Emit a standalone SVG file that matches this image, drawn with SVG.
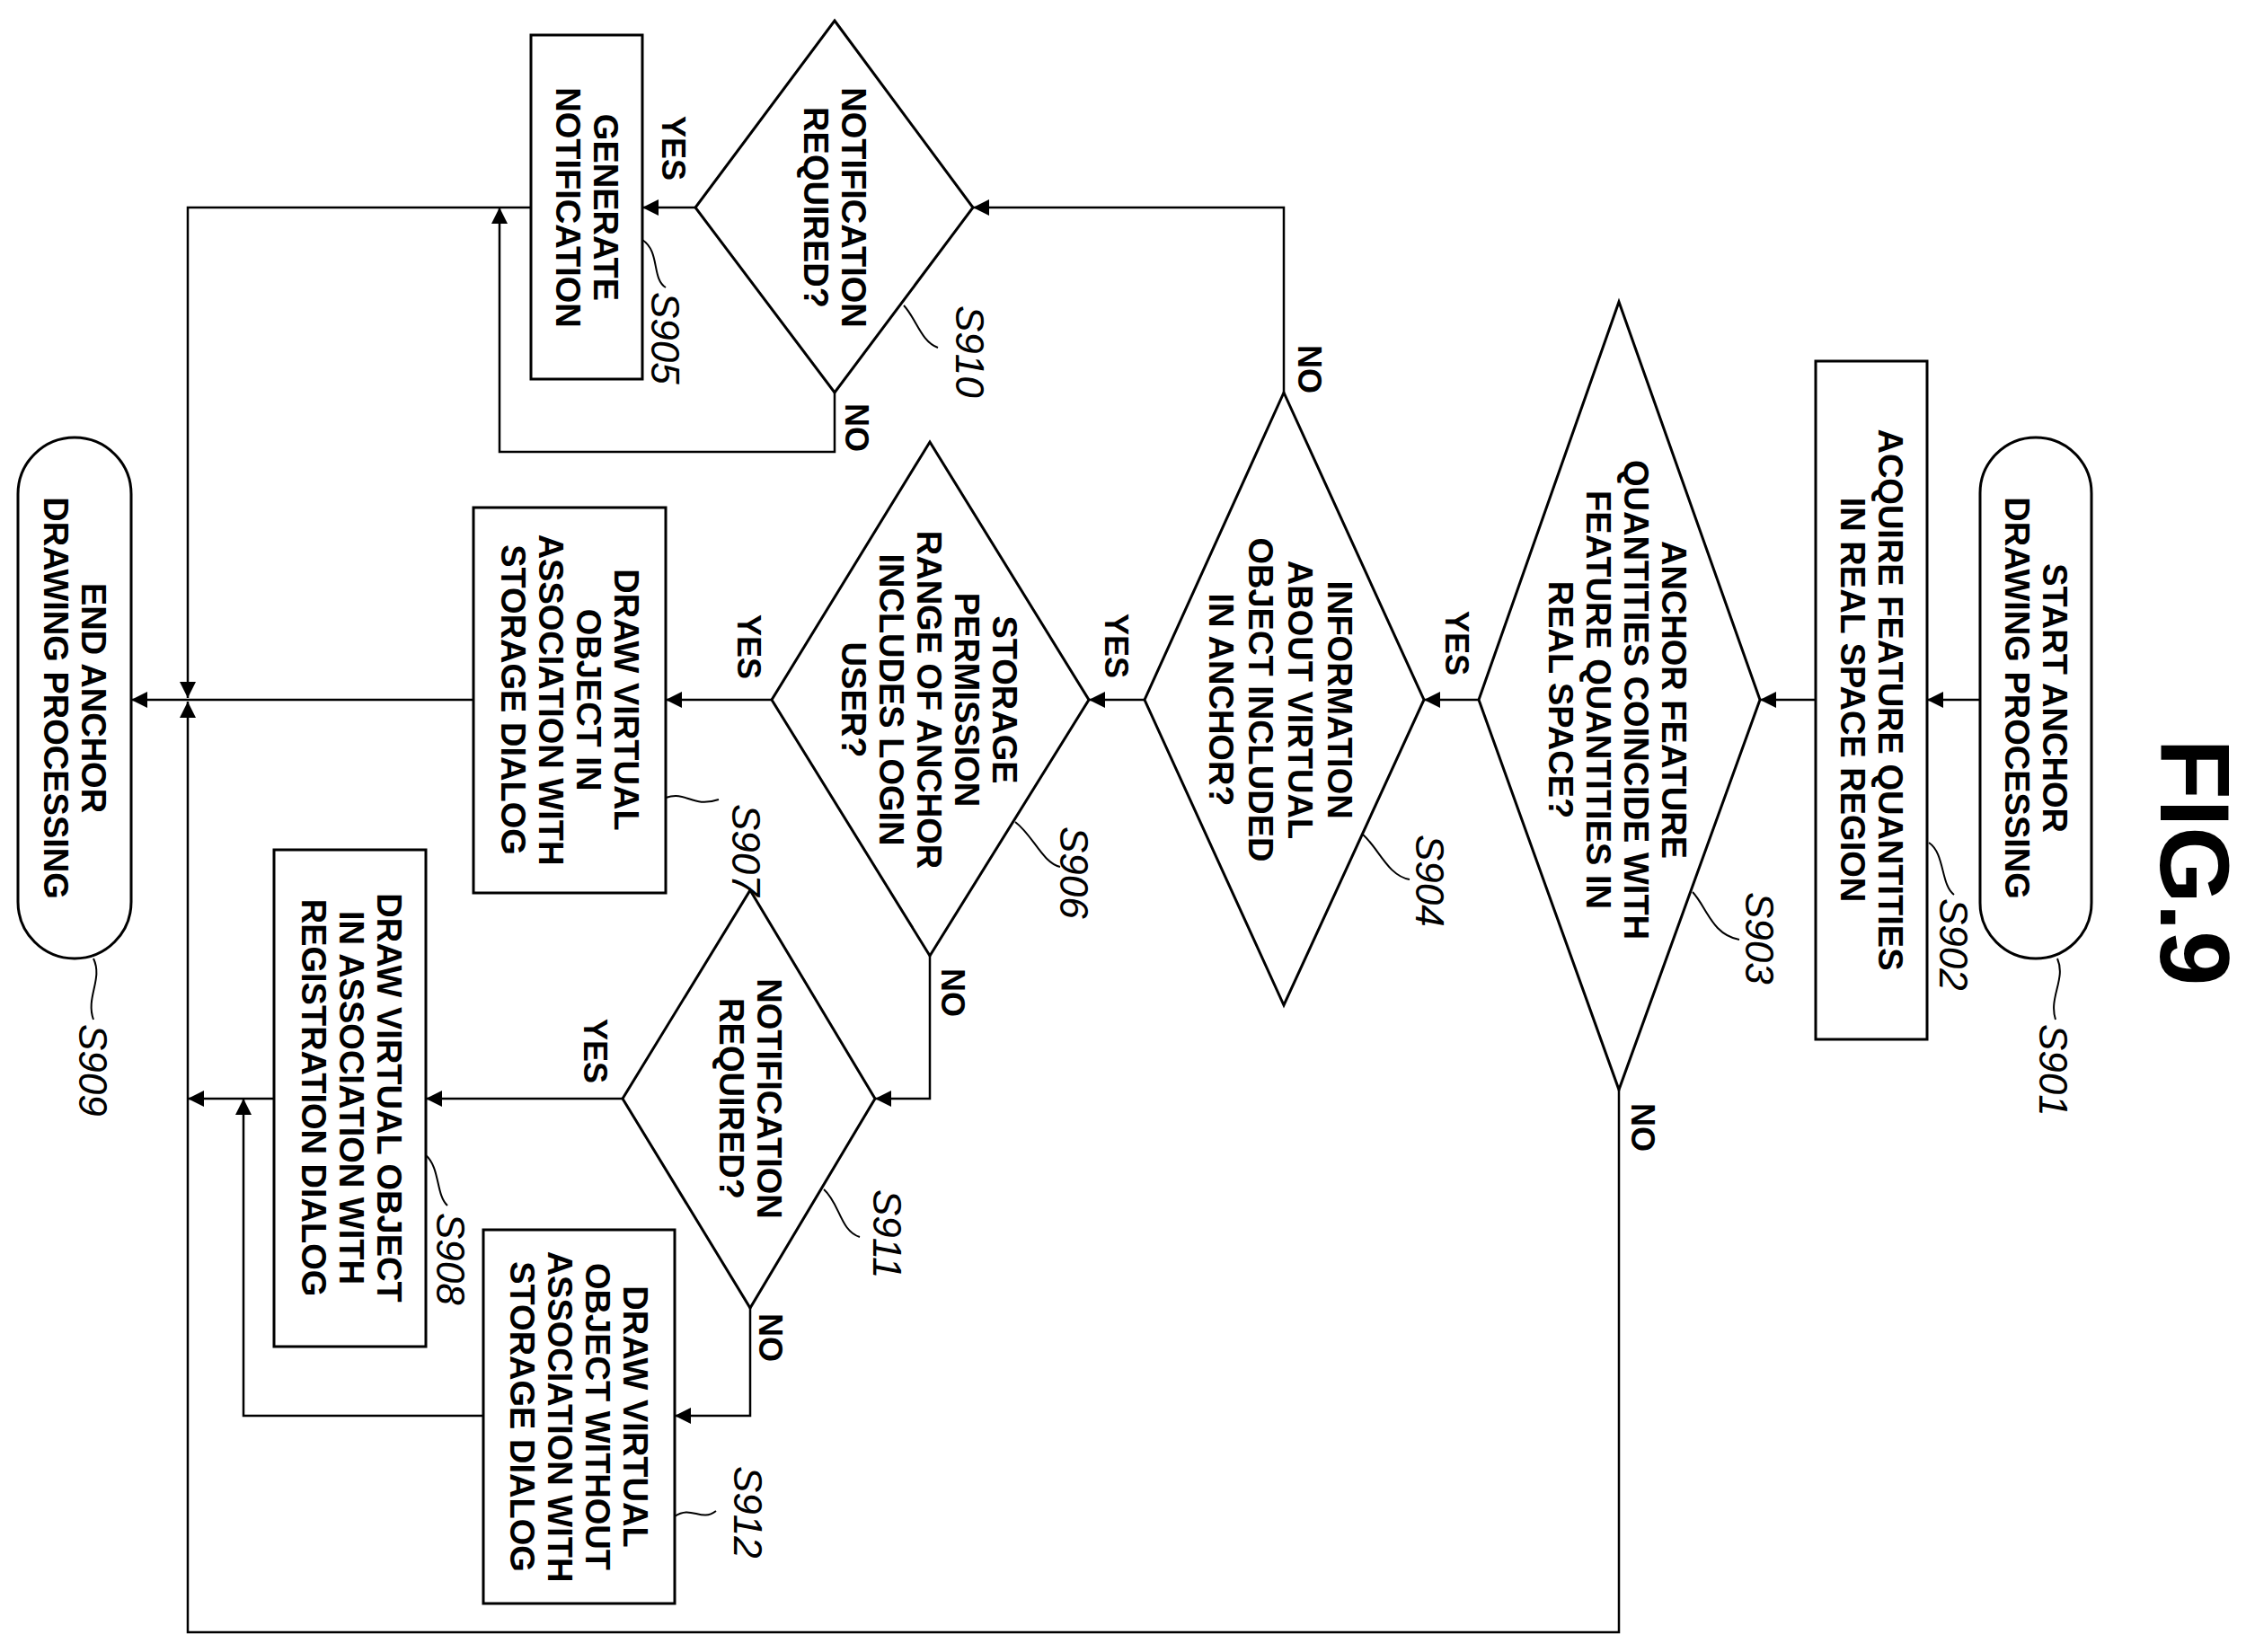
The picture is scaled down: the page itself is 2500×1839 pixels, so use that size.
<svg xmlns="http://www.w3.org/2000/svg" width="2500" height="1839" viewBox="0 0 2500 1839">
<style>
.s{fill:none;stroke:#000;stroke-width:3}
.c{fill:none;stroke:#000;stroke-width:2.5}
.t{font-family:"Liberation Sans",Arial,sans-serif;font-size:38px;font-weight:bold;text-anchor:middle}
.l{font-family:"Liberation Sans",Arial,sans-serif;font-size:44px;font-style:italic}
.y{font-family:"Liberation Sans",Arial,sans-serif;font-size:36px;font-weight:bold}
.ld{fill:none;stroke:#000;stroke-width:2}
</style>
<defs>
<marker id="a" viewBox="0 0 10 10" refX="10" refY="5" markerWidth="20" markerHeight="18" markerUnits="userSpaceOnUse" orient="auto"><path d="M0,0L10,5L0,10z" fill="#000"/></marker>
</defs>
<rect width="2500" height="1839" fill="#fff"/>
<text class="t" style="font-size:110px" transform="translate(2405,960) rotate(90)">FIG.9</text>

<g id="S901"><rect class="s" x="2204" y="487" width="124" height="580" rx="62"/>
<g transform="translate(2266,777) rotate(90)"><text class="t" y="-8">START ANCHOR</text><text class="t" y="34">DRAWING PROCESSING</text></g>
<path class="ld" d="M2290,1067 C2300,1090 2280,1110 2288,1135"/><text class="l" transform="translate(2270,1140) rotate(90)">S901</text></g>

<g id="S902"><rect class="s" x="2021" y="402" width="124" height="755"/>
<g transform="translate(2083,779) rotate(90)"><text class="t" y="-8">ACQUIRE FEATURE QUANTITIES</text><text class="t" y="34">IN REAL SPACE REGION</text></g>
<path class="ld" d="M2147,938 C2165,950 2160,985 2175,996"/><text class="l" transform="translate(2159,1000) rotate(90)">S902</text></g>

<g id="S903"><polygon class="s" points="1802,336 1959,779 1802,1213 1646,779"/>
<g transform="translate(1800,779) rotate(90)"><text class="t" y="-50">ANCHOR FEATURE</text><text class="t" y="-8">QUANTITIES COINCIDE WITH</text><text class="t" y="34">FEATURE QUANTITIES IN</text><text class="t" y="76">REAL SPACE?</text></g>
<path class="ld" d="M1884,993 C1900,1010 1905,1040 1936,1046"/><text class="l" transform="translate(1943,993) rotate(90)">S903</text></g>

<g id="S904"><polygon class="s" points="1429,437 1585,779 1429,1119 1274,779"/>
<g transform="translate(1424,779) rotate(90)"><text class="t" y="-54">INFORMATION</text><text class="t" y="-10">ABOUT VIRTUAL</text><text class="t" y="34">OBJECT INCLUDED</text><text class="t" y="78">IN ANCHOR?</text></g>
<path class="ld" d="M1517,929 C1535,945 1545,975 1569,979"/><text class="l" transform="translate(1576,929) rotate(90)">S904</text></g>

<g id="S906"><polygon class="s" points="1035,492 1212,779 1035,1064 859,779"/>
<g transform="translate(1033,779) rotate(90)"><text class="t" y="-72">STORAGE</text><text class="t" y="-30">PERMISSION</text><text class="t" y="12">RANGE OF ANCHOR</text><text class="t" y="54">INCLUDES LOGIN</text><text class="t" y="96">USER?</text></g>
<path class="ld" d="M1130,915 C1150,930 1160,960 1180,965"/><text class="l" transform="translate(1180,920) rotate(90)">S906</text></g>

<g id="S907"><rect class="s" x="527" y="565" width="214" height="429"/>
<g transform="translate(634,779) rotate(90)"><text class="t" y="-50">DRAW VIRTUAL</text><text class="t" y="-8">OBJECT IN</text><text class="t" y="34">ASSOCIATION WITH</text><text class="t" y="76">STORAGE DIALOG</text></g>
<path class="ld" d="M741,888 C765,880 770,900 800,890"/><text class="l" transform="translate(815,895) rotate(90)">S907</text></g>

<g id="S909"><rect class="s" x="20" y="487" width="126" height="580" rx="63"/>
<g transform="translate(83,777) rotate(90)"><text class="t" y="-8">END ANCHOR</text><text class="t" y="34">DRAWING PROCESSING</text></g>
<path class="ld" d="M104,1067 C115,1090 95,1110 104,1135"/><text class="l" transform="translate(88,1140) rotate(90)">S909</text></g>

<g id="S910"><polygon class="s" points="929,23 1083,231 929,437 774,231"/>
<g transform="translate(929,231) rotate(90)"><text class="t" y="-8">NOTIFICATION</text><text class="t" y="34">REQUIRED?</text></g>
<path class="ld" d="M1006,340 C1020,355 1025,380 1044,387"/><text class="l" transform="translate(1064,340) rotate(90)">S910</text></g>

<g id="S905"><rect class="s" x="591" y="39" width="124" height="383"/>
<g transform="translate(653,231) rotate(90)"><text class="t" y="-8">GENERATE</text><text class="t" y="34">NOTIFICATION</text></g>
<path class="ld" d="M715,267 C735,280 725,310 741,320"/><text class="l" transform="translate(725,325) rotate(90)">S905</text></g>

<g id="S911"><polygon class="s" points="835,991 974,1223 835,1456 693,1223"/>
<g transform="translate(835,1223) rotate(90)"><text class="t" y="-8">NOTIFICATION</text><text class="t" y="34">REQUIRED?</text></g>
<path class="ld" d="M917,1324 C935,1340 935,1370 957,1377"/><text class="l" transform="translate(972,1324) rotate(90)">S911</text></g>

<g id="S908"><rect class="s" x="305" y="946" width="169" height="553"/>
<g transform="translate(390,1222) rotate(90)"><text class="t" y="-30">DRAW VIRTUAL OBJECT</text><text class="t" y="12">IN ASSOCIATION WITH</text><text class="t" y="54">REGISTRATION DIALOG</text></g>
<path class="ld" d="M474,1286 C490,1300 485,1330 498,1342"/><text class="l" transform="translate(486,1350) rotate(90)">S908</text></g>

<g id="S912"><rect class="s" x="538" y="1369" width="213" height="416"/>
<g transform="translate(644,1577) rotate(90)"><text class="t" y="-50">DRAW VIRTUAL</text><text class="t" y="-8">OBJECT WITHOUT</text><text class="t" y="34">ASSOCIATION WITH</text><text class="t" y="76">STORAGE DIALOG</text></g>
<path class="ld" d="M751,1688 C770,1675 780,1695 797,1682"/><text class="l" transform="translate(817,1632) rotate(90)">S912</text></g>

<g id="connectors">
<path class="c" marker-end="url(#a)" d="M2204,779H2145"/>
<path class="c" marker-end="url(#a)" d="M2021,779H1959"/>
<path class="c" marker-end="url(#a)" d="M1646,779H1585"/>
<path class="c" marker-end="url(#a)" d="M1274,779H1212"/>
<path class="c" marker-end="url(#a)" d="M859,779H741"/>
<path class="c" marker-end="url(#a)" d="M527,779H146"/>
<path class="c" marker-end="url(#a)" d="M1802,1213V1817H209V781"/>
<path class="c" marker-end="url(#a)" d="M1429,437V231H1083"/>
<path class="c" marker-end="url(#a)" d="M774,231H715"/>
<path class="c" marker-end="url(#a)" d="M929,437V503H556V231"/>
<path class="c" marker-end="url(#a)" d="M591,231H209V777"/>
<path class="c" marker-end="url(#a)" d="M1035,1064V1223H974"/>
<path class="c" marker-end="url(#a)" d="M693,1223H474"/>
<path class="c" marker-end="url(#a)" d="M305,1223H209"/>
<path class="c" marker-end="url(#a)" d="M835,1456V1576H751"/>
<path class="c" marker-end="url(#a)" d="M538,1576H271V1223"/>
<text class="y" transform="translate(1609,680) rotate(90)">YES</text>
<text class="y" transform="translate(1230,683) rotate(90)">YES</text>
<text class="y" transform="translate(821,684) rotate(90)">YES</text>
<text class="y" transform="translate(737,129) rotate(90)">YES</text>
<text class="y" transform="translate(650,1134) rotate(90)">YES</text>
<text class="y" transform="translate(1816,1228) rotate(90)">NO</text>
<text class="y" transform="translate(1445,384) rotate(90)">NO</text>
<text class="y" transform="translate(941,449) rotate(90)">NO</text>
<text class="y" transform="translate(1048,1078) rotate(90)">NO</text>
<text class="y" transform="translate(845,1462) rotate(90)">NO</text>
</g>
</svg>
